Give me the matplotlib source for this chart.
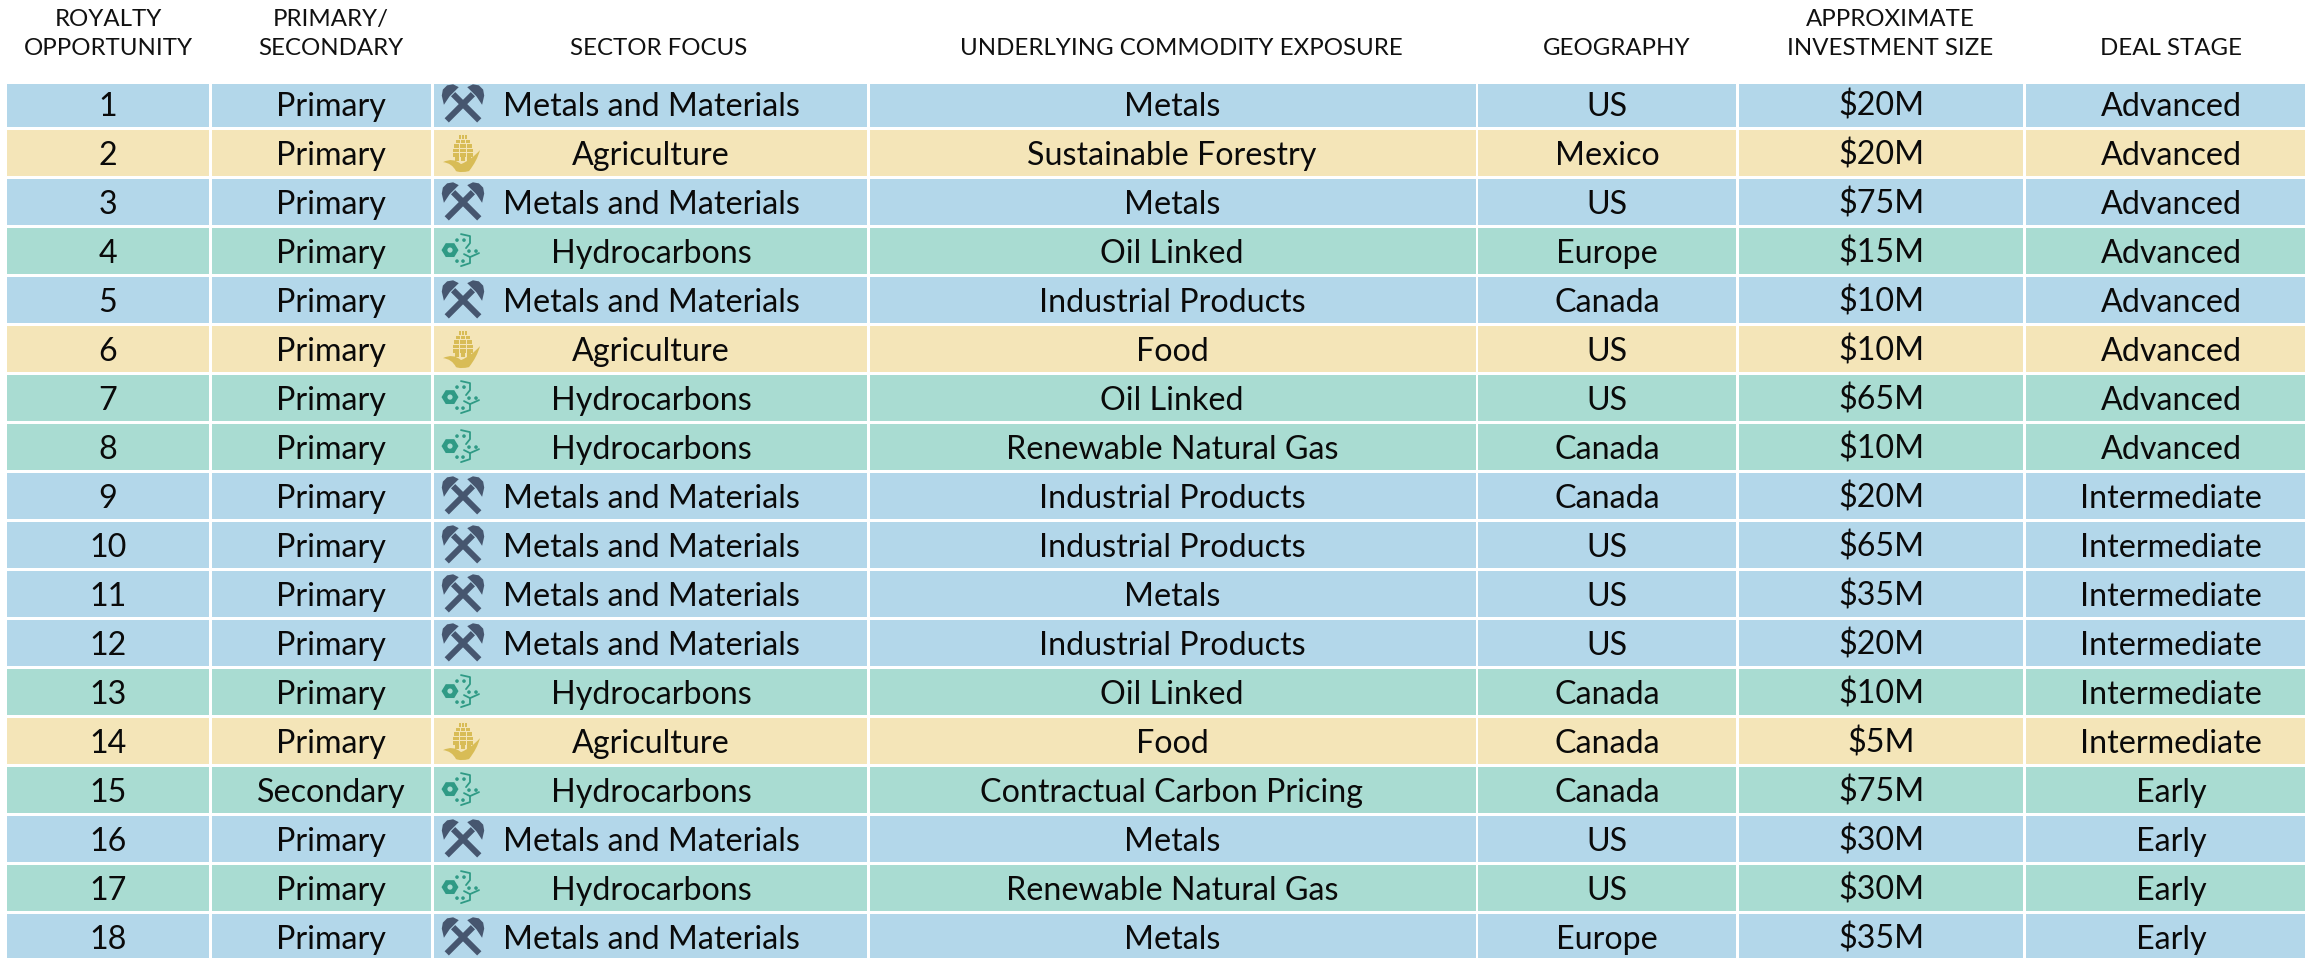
import matplotlib
matplotlib.use("Agg")
import matplotlib.pyplot as plt
import numpy as np
from matplotlib.patches import Rectangle, Polygon, Circle, PathPatch
from matplotlib.path import Path
from matplotlib.transforms import Affine2D

plt.rcParams['font.family'] = ['Lato', 'DejaVu Sans']

headers = ["ROYALTY\nOPPORTUNITY", "PRIMARY/\nSECONDARY", "SECTOR FOCUS",
           "UNDERLYING COMMODITY EXPOSURE", "GEOGRAPHY",
           "APPROXIMATE\nINVESTMENT SIZE", "DEAL STAGE"]
opportunity = [str(i) for i in range(1, 19)]
primary = ["Primary"] * 14 + ["Secondary"] + ["Primary"] * 3
M, A, H = "Metals and Materials", "Agriculture", "Hydrocarbons"
sector = [M, A, M, H, M, A, H, H, M, M, M, M, H, A, H, M, H, M]
exposure = ["Metals", "Sustainable Forestry", "Metals", "Oil Linked", "Industrial Products",
            "Food", "Oil Linked", "Renewable Natural Gas", "Industrial Products",
            "Industrial Products", "Metals", "Industrial Products", "Oil Linked", "Food",
            "Contractual Carbon Pricing", "Metals", "Renewable Natural Gas", "Metals"]
geography = ["US", "Mexico", "US", "Europe", "Canada", "US", "US", "Canada", "Canada",
             "US", "US", "US", "Canada", "Canada", "Canada", "US", "US", "Europe"]
size = ["$20M", "$20M", "$75M", "$15M", "$10M", "$10M", "$65M", "$10M", "$20M",
        "$65M", "$35M", "$20M", "$10M", "$5M", "$75M", "$30M", "$30M", "$35M"]
stage = ["Advanced"] * 8 + ["Intermediate"] * 6 + ["Early"] * 4
columns = [opportunity, primary, sector, exposure, geography, size, stage]

col_left = [7, 212, 434, 870, 1478, 1739, 2026]
col_right = [209, 431, 867, 1476, 1736, 2023, 2305]
text_cx = [108, 331, 651, 1172, 1607, 1881, 2171]
head_cx = [108, 331, 659, 1181, 1617, 1890, 2171]
row_top0, row_pitch, row_h, table_top = 81.0, 49.0, 46.2, 84.0
fill = {M: "#B3D7EA", A: "#F4E5B8", H: "#A9DCD2"}
FS = 23.2
HFS = 17.3

fig = plt.figure(figsize=(23.05, 9.58), dpi=100, facecolor="white")
ax = fig.add_axes([0, 0, 1, 1])
ax.set_xlim(0, 2305)
ax.set_ylim(958, 0)
ax.axis("off")


def place(cx, cy):
    return Affine2D().translate(cx, cy) + ax.transData


def hammers(cx, cy):
    c = "#46566F"
    tr = place(cx, cy)
    for sgn in (1, -1):
        t = Affine2D().rotate_deg(sgn * 45)
        mir = -sgn
        hand = Polygon([(-3, -14), (3, -14), (3, 23), (-3, 23)], closed=True)
        head = Polygon([(-mir * x, y) for x, y in
                        [(-9, -15), (-7, -21), (-2, -24.5), (4, -24.5), (9, -21),
                         (14, -13), (4, -15), (-4, -15)]], closed=True)
        for p in (hand, head):
            p.set(facecolor=c, edgecolor="none", transform=t + tr)
            ax.add_patch(p)


def corn(cx, cy):
    c = "#D8BC56"
    tr = place(cx, cy)
    rows = [(-16, 4), (-11.5, 7), (-7, 9), (-2.5, 10), (2, 10), (6, 8)]
    for y, hw in rows:
        w = (2 * hw - 2.6) / 3
        for k in range(3):
            x = 2 - hw + k * (w + 1.3)
            ax.add_patch(Rectangle((x, y - 1.7), w, 3.4, facecolor=c, edgecolor="none",
                                   transform=tr))
    verts = [(-18, 9), (-8, 4), (0, 11), (10, 7), (19, -3),
             (16, 8), (8, 18), (0, 20), (-5, 18), (-9, 10), (-18, 9), (-18, 9)]
    codes = [Path.MOVETO] + [Path.CURVE3] * 10 + [Path.CLOSEPOLY]
    ax.add_patch(PathPatch(Path(verts, codes), facecolor=c, edgecolor="none", transform=tr))


def hydro(cx, cy):
    c = "#2F9A85"
    tr = place(cx, cy)
    ang = np.deg2rad(np.arange(0, 360, 60))
    ax.add_patch(Polygon(np.c_[8.5 * np.cos(ang) - 10, 8.0 * np.sin(ang) - 1], closed=True,
                         facecolor=c, edgecolor="none", transform=tr))
    ax.add_patch(Circle((-10, -1), 2.6, facecolor=fill[H], edgecolor="none", transform=tr))
    for x, y in [(-3, -11), (4, -11), (9, 0), (16, 0), (-3, 10), (3, 10)]:
        ax.add_patch(Circle((x, y), 1.8, facecolor=c, edgecolor="none", transform=tr))
    lines = [[(1, -17), (10, -15), (10, -8), (6, -3)],
             [(19, 2), (10, 6), (10, 12), (1, 15)],
             [(4, 3), (10, 6)]]
    for pts in lines:
        xy = np.array(pts)
        ax.plot(xy[:, 0], xy[:, 1], color=c, lw=1.3, transform=tr, solid_capstyle="round")


icons = {M: (hammers, 463), A: (corn, 461), H: (hydro, 460)}

for cx, h in zip(head_cx, headers):
    lines = h.split("\n")
    for k, line in enumerate(reversed(lines)):
        ax.text(cx, 55 - 29 * k, line, ha="center", va="baseline", fontsize=HFS, color="#111111")

for i in range(len(opportunity)):
    top = row_top0 + i * row_pitch
    mid = top + row_h / 2
    draw_top = max(top, table_top)
    for j, (l, r) in enumerate(zip(col_left, col_right)):
        ax.add_patch(Rectangle((l, draw_top), r - l, top + row_h - draw_top,
                               facecolor=fill[sector[i]], edgecolor="none"))
        ax.text(text_cx[j], mid + 11.5, columns[j][i], ha="center", va="baseline", fontsize=FS,
                color="#0a0a0a")
    fn, ix = icons[sector[i]]
    fn(ix, mid)

fig.savefig("out.png", dpi=100, facecolor="white")
